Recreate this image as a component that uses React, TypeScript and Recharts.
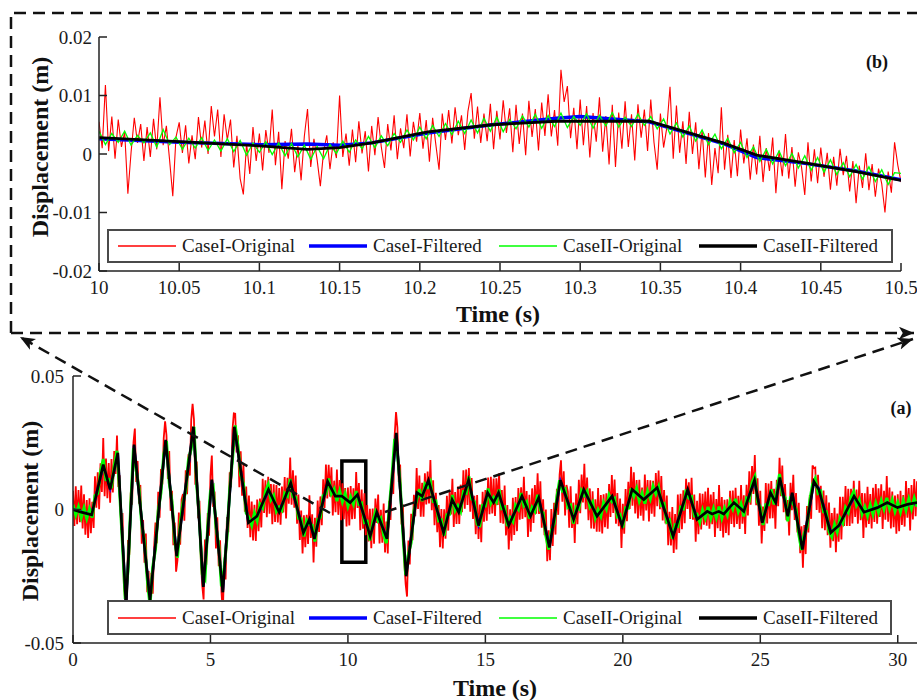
import React from 'react';
import { LineChart, Line, XAxis, YAxis, Legend, ReferenceArea } from 'recharts';

const FONT = '"Liberation Serif", "Times New Roman", serif';

// ---------- panel (b): zoom 10.0 - 10.5 s, values read in mm ----------
const B_START = 10;
const B_RED_STEP = 0.002;
const bRedMm = [
  5.5, 1.0, 11.8, 0.5, 6.4, -0.8, 5.9, 1.2, 3.8, -6.8,
  0.3, 6.2, 1.9, 5.1, -1.2, 4.6, -0.5, 6.0, 0.8, 9.7,
  1.5, 4.8, -1.0, -7.2, 2.9, 5.4, 0.2, 4.9, -1.6, 3.2,
  -0.9, 6.3, 1.1, 5.7, 0.0, 8.2, 3.0, 7.6, -0.5, 6.8,
  2.4, 5.9, -2.3, 3.1, -4.2, -6.9, 1.8, -3.4, 4.6, -1.2,
  3.5, -2.8, 4.1, 0.2, 7.6, -1.9, 3.8, -6.0, 2.2, -0.8,
  4.3, -3.1, 1.4, -4.5, 3.0, 7.7, -2.2, 2.6, -1.0, -5.5,
  0.4, 3.2, -2.6, 2.0, -0.7, 10.0, -0.5, 3.5, -2.0, 4.2,
  -1.4, 5.6, 0.1, 3.9, -3.0, 4.8, -0.2, 6.3, 1.2, -2.4,
  5.1, 0.6, 6.6, -0.9, 4.4, 1.0, 6.8, -0.4, 5.5, 2.1,
  7.0, 0.9, 5.8, -1.3, 6.2, 1.6, -2.7, 6.9, 2.4, 7.5,
  1.8, 8.0, 3.2, 6.6, 0.7, 7.3, 10.4, 2.6, 8.1, 1.9,
  6.9, 2.2, 8.6, 0.8, 7.4, 2.5, 9.2, 3.6, 7.8, 0.3,
  8.4, 1.7, 6.9, -0.2, 9.1, 2.9, 7.7, 0.6, 8.8, 3.1,
  10.2, 3.0, 7.5, 1.4, 14.4, 8.9, 11.6, 2.7, 7.9, 0.8,
  9.3, 1.5, 8.2, -0.6, 7.0, 2.1, 9.7, 0.4, 6.5, -1.8,
  8.4, -2.2, 7.1, 0.9, 9.0, 1.2, 6.8, -1.1, 8.5, 2.8,
  7.6, 0.5, 9.3, 2.0, -2.7, 6.9, 1.1, 4.5, 11.5, -0.8,
  8.3, 0.2, 5.6, -1.7, 7.2, 0.0, 5.4, -2.6, 4.1, -4.0,
  3.6, -5.3, 1.0, -3.3, 8.0, -2.7, 3.3, -4.1, 2.4, -3.8,
  4.2, -1.6, 2.7, -4.4, 1.6, -3.5, 3.1, -4.8, 1.0, -2.9,
  2.8, -6.7, 0.6, -3.8, 3.4, -4.2, 1.2, -5.6, 0.3, -2.3,
  -7.0, 2.0, -4.7, 0.8, -5.0, 1.1, -3.9, 0.2, -6.1, -0.5,
  -5.4, 0.9, -3.6, -0.3, -6.4, -1.2, -8.4, -2.0, -5.8, 0.1,
  -6.2, -1.7, -7.3, -2.5, -5.1, -10.0, -3.0, -6.6, 2.0, -1.9,
  -4.8,
];
const B_GREEN_STEP = 0.004;
const bGreenMm = [
  3.9, 1.6, 3.5, 2.0, 3.9, 1.5, 3.2, 1.9, 3.6, 1.2,
  4.2, 1.6, 2.9, 0.8, 2.7, 1.0, 2.8, 0.6, 2.4, 0.5,
  2.6, 0.4, 2.3, -0.2, 1.9, 0.3, 2.1, -0.1, 1.9, -0.3,
  1.8, -0.5, 1.5, -0.9, 1.3, -0.8, 1.6, 0.1, 2.2, 0.3,
  2.4, 0.9, 3.0, 1.1, 3.1, 1.4, 3.5, 2.0, 4.1, 2.4,
  4.6, 2.6, 4.9, 3.0, 5.2, 3.3, 5.6, 3.5, 5.8, 3.6,
  6.1, 3.9, 6.3, 3.8, 5.9, 4.3, 6.5, 4.6, 6.8, 4.4,
  6.6, 4.7, 7.0, 4.5, 6.4, 4.9, 6.9, 4.4, 6.6, 4.8,
  7.1, 4.6, 6.3, 4.7, 6.8, 4.9, 6.4, 4.3, 6.0, 3.4,
  5.3, 2.9, 4.8, 2.2, 4.1, 1.6, 3.4, 0.9, 2.7, 0.2,
  2.0, -0.6, 1.2, -1.3, 0.8, -1.7, 0.5, -2.0, 0.1, -2.4,
  -0.3, -2.8, -0.6, -3.1, -1.0, -3.5, -1.5, -3.9, -1.8, -4.3,
  -2.2, -4.7, -2.7, -5.2, -3.2, -3.3,
];
const bBlueT = [10, 10.05, 10.1, 10.13, 10.15, 10.17, 10.205, 10.245, 10.285, 10.3, 10.32, 10.343, 10.389, 10.41, 10.44, 10.472, 10.5];
const bBlueMm = [2.6, 2.0, 1.6, 1.7, 1.5, 1.9, 3.6, 5.0, 6.1, 6.4, 6.0, 5.5, 1.8, -0.6, -1.6, -2.9, -4.4];
const bBlackT = [10, 10.05, 10.1, 10.13, 10.15, 10.17, 10.205, 10.245, 10.285, 10.343, 10.389, 10.41, 10.44, 10.472, 10.5];
const bBlackMm = [2.8, 2.1, 1.4, 0.8, 1.1, 1.9, 3.8, 5.0, 5.6, 5.6, 1.9, -0.2, -1.5, -3.0, -4.5];

// ---------- panel (a): whole record, values read in mm ----------
const A_RED_STEP = 0.05;
const aRedMm = [
  7, -6.2, 8.7, -5.5, 7.3, -4.8, 9, -7.1, 5.7, -9.4, 3.5, -10.7, 4.2, -8.9, 2.9, -6.9, 12.4, 0.7, 13.9, 0.1,
  17.3, 6.6, 26.8, 5, 19.1, 4.2, 17.4, 2.5, 18.9, 6.4, 21.9, 13.3, 27.7, 8.4, 12.8, -7.7, -1.3, -27.8, -34.3, -40.8,
  -11.4, -17, 6.4, 1.8, 25.1, 30.3, 10.3, 18.2, 2.2, 9.2, -12.8, -3.9, -19.9, -9, -31, -23, -43, -23.7, -31.5, -14.2,
  -4.9, -12.7, 6.6, -3.1, 15.2, 9.4, 26.7, 33, 27.8, 11.4, 21.9, -0.5, 7, -13.4, -4.9, -23.3, -19.1, -1.1, -13.2, 3.8,
  5.8, -4.2, 14.7, 5.7, 20.7, 12.7, 33.6, 39.6, 33.7, 9.3, 18, -3.3, 3.3, -19, -28.3, -33.7, -11.2, -20.7, -1.3, -9.8,
  12.7, 20.2, 0.9, 6.7, -14.6, -2.9, -21.2, -11.5, -30.7, -39, -19.6, -26.2, -2.8, -8.5, 13.9, 8.3, 29.7, 36, 35.9, 21.4,
  27.8, 8.3, 21.8, 5.2, 16.7, -0.8, 8.6, -6.9, 5.2, -10.4, 3, -11.6, 1.8, -11.8, 3.7, -8.1, 4.1, -6.7, 11.5, -1.3,
  10.9, -2.9, 12.3, -1.6, 9.5, -5.5, 9.4, -4.7, 9.2, -4.9, 8, -5.7, 8.6, -1.1, 12.2, -3.4, 11.9, 2.2, 19.5, 1.8,
  14.7, 0.7, 12.7, -5.3, 5.6, -11.4, -0.4, -16.5, -2.2, -14.1, -2, -12.9, 5.3, -10.7, -1.8, -19.8, -3.1, -13.9, 3.4, -8.4,
  4.9, -5.9, 11.3, 0.6, 16.8, 4.1, 16.7, 4.8, 15.8, -2.2, 10.8, -1, 15, -2, 11, -4, 9.8, -3.6, 8, -6.4,
  8.2, -6, 8.8, -3.6, 7.9, -3.5, 14, 0.6, 9.9, -7.8, 7.5, -7.2, 6.1, -9.6, 1.7, -12, 0.3, -14.5, 0.4, -12.8,
  4.1, -5, 5.6, -12.7, -0.1, -12.4, 2.2, -16.1, -4.5, -16.5, 3.3, -3.9, 14, 5.8, 27.7, 36.5, 30.7, 10.3, 16.8, -5.6,
  1.9, -19.6, -28, -32.6, -11.6, -20.6, -1.6, -11.5, 5.5, -2.5, 15.5, 0.2, 12.7, -2.7, 10, -2.7, 13.6, 1.9, 14.2, 2.3,
  18.5, -0.3, 10.9, -5.9, 6.3, -8.5, 1.7, -14.1, 0.2, -14.6, 0.1, -10.9, 5.1, -7.9, 7.1, -1.9, 11.5, -6.5, 6.5, -5.4,
  8.6, -5.4, 9.3, -1, 14.7, 0.3, 15, 1.7, 15.5, -0.8, 11.8, -3.5, 5.1, -9.3, 5.4, -11, 1.9, -12.3, 6.6, -4.6,
  7.3, -4.2, 12, -1.8, 12.3, -1.5, 11.6, -2.4, 11.7, 1.7, 13.6, -5, 7.3, -5.3, 9, -9.7, 1.7, -15, 0.1, -11.7,
  4.4, -9.5, 4.7, -8.1, 8, -3.8, 8.3, -3.5, 12.3, -2.9, 6.9, -10.3, 5.5, -8.3, 7.9, -5, 9.2, -1.6, 13.6, -1.7,
  10.6, -6.8, 3.8, -9.6, 0, -19.4, -7.8, -19, 0.2, -13.7, 2.5, -9.4, 7.8, -2, 13.1, 18.4, 2.9, 14.3, -2.2, 9.2,
  6.7, -6.8, 8.7, -6.9, 2.6, -12.5, 6, -5.5, 11.1, -1.4, 13.1, 2.6, 17.1, 0.1, 12, -4, 7.9, -7.1, 6.8, -7.2,
  3.8, -8.3, 8, -8.3, 5.4, -9, 5.7, -6.6, 6.1, -7.2, 9.5, -2.8, 12.9, -1.3, 11.2, -5.3, 6.2, -6.3, 4.1, -14.4,
  2.1, -9.1, 7.7, -4.4, 10.4, 0.2, 16, 1.4, 13.9, -1.5, 11, -3.4, 11.1, -2.3, 8.2, -4.2, 13.1, -0.4, 11, -4.5,
  10.9, -1.6, 10.8, -2.7, 13.7, 1.2, 14.6, 0.1, 12.5, -4.1, 7.3, -5.2, 5.2, -13.4, -0.9, -13.5, 0.9, -16.3, -1.7, -15,
  5.6, -8.8, 5.9, -7.4, 7.2, -5.1, 11.5, 0.2, 10.2, -3.5, 11.9, -3.8, 5.6, -12.1, 3.3, -9.3, 6.1, -7.5, 5.9, -5.7,
  6.7, -6.1, 8.1, -7.2, 5.6, -5.5, 6.5, -10.3, 3.9, -7, 9.2, -8, 4.7, -10.5, 3.6, -8.8, 3.8, -9.6, 7, -5.4,
  7.1, -6.6, 8.1, -5.4, 5.1, -7.3, 9.2, -5.3, 5.3, -9.2, 9.3, -2.2, 14.3, 1.8, 16.3, 5.8, 20.4, 1.6, 11.7, -6.1,
  7, -12.7, 1.1, -8, 9.9, -5.2, 9.7, -3.4, 10.7, -3.3, 7.8, -7.2, 11.1, 1.2, 19.4, 5, 16.5, -1, 9.5, -4,
  3.5, -9.7, 10, -0.3, 13, -3.9, 6.2, -8.6, 2.5, -16.4, -6.3, -21.8, -5.8, -16.7, 1.3, -8.6, 5.4, -3.5, 16.5, 15.5,
  15.7, -0.2, 13, -1.2, 8.9, -7, 7.1, -7.8, 5.3, -9.6, 2.6, -14.3, -1.3, -11.9, 0.6, -16, -1.5, -12.1, 4.8, -11.2,
  4.8, -6.2, 8.8, -6.2, 7.8, -6.2, 7.8, -5.2, 10.8, -2.8, 7.5, -5.3, 10.8, -4, 6.2, -10.7, 6.1, -6.7, 8.5, -5.4,
  5.8, -7.1, 8.1, -4.7, 9.5, -5.3, 7.9, -2.8, 9.4, -7.3, 7, -3.8, 12.5, -4.6, 8.2, -7.1, 6.7, -6.6, 5.2, -9.1,
  5.7, -8.1, 7, -5.8, 5.4, -6.4, 10.7, -3.1, 8, -7.9, 9.2, -3.7, 11.4, -2.5, 10.6,
];
const A_GREEN_STEP = 0.1;
const aGreenMm = [
  1.8, -2.1, 1.0, -3.0, 0.6, -3.4, 0.2, -3.0, 5.2, 6.0,
  14.1, 18.9, 11.2, 11.3, 8.0, 16.6, 22.0, 6.0, -13.0, -33.5,
  -23.0, 1.3, 23.0, 14.5, 8.0, -5.7, -12.0, -26.0, -36.0, -21.6,
  -14.8, -0.5, 6.3, 20.6, 25.6, 10.0, 2.9, -11.8, -18.0, -5.3,
  2.7, 6.8, 18.6, 22.7, 31.0, 9.1, -3.8, -24.2, -26.0, -6.4,
  6.8, 8.4, -6.5, -13.3, -28.8, -21.7, -10.7, 7.8, 18.8, 31.5,
  23.7, 12.9, 9.6, -1.3, -3.0, -5.9, -1.3, -4.2, 2.0, 0.6,
  6.8, 9.3, 3.6, 5.3, -0.7, 0.9, -0.3, 6.1, 5.0, 11.4,
  4.8, 4.6, -3.3, -3.5, -10.1, -4.1, -5.6, -5.9, -12.0, -3.7,
  -3.0, 5.2, 5.9, 11.6, 5.9, 7.7, 3.1, 6.9, 2.9, 5.9,
  1.3, 4.7, 2.0, 6.9, 2.0, 2.4, -4.8, -4.4, -11.6, -4.7,
  -1.0, -4.3, -3.2, -9.7, -12.6, 0.2, 11.9, 26.5, 20.8, 9.7,
  -9.0, -24.5, -16.7, -12.5, -0.6, 3.6, 7.6, 3.1, 9.5, 8.3,
  10.4, 3.0, 3.2, -4.2, -3.9, -9.8, -2.0, -1.8, 5.4, -0.4,
  1.5, -0.6, 6.6, 6.1, 12.4, 3.9, 3.0, -5.5, -6.0, 1.5,
  1.4, 7.9, 2.4, 4.5, 2.8, 7.5, 0.4, 0.9, -6.2, -3.0,
  -4.5, 1.6, 0.1, 6.2, 1.4, 2.8, -3.4, 0.8, -0.7, 5.5,
  -0.3, -1.3, -9.9, -15.0, -7.9, -5.4, 4.7, 11.0, 7.0, 7.7,
  0.8, 1.6, -5.3, 0.9, 0.2, 7.0, 5.2, 6.9, 1.0, 2.7,
  -3.1, -0.1, -2.5, 2.6, 0.2, 5.4, 3.0, 4.1, -2.7, -2.0,
  -6.8, 0.6, 0.5, 7.9, 5.0, 7.9, 3.2, 6.1, 2.2, 6.9,
  4.0, 8.7, 5.8, 8.5, 1.6, 2.2, -4.7, -4.0, -11.0, -5.8,
  -6.3, 0.8, 0.3, 7.4, 4.3, 4.8, -2.3, -1.8, -4.8, -0.2,
  -3.2, 1.0, -3.3, 0.4, -3.0, 1.1, -3.2, 0.5, -2.1, 2.9,
  0.2, 4.0, -0.8, 2.1, -2.6, 4.2, 3.4, 10.2, 12.3, 2.8,
  0.9, -5.8, 1.8, 1.8, 7.6, 1.9, 7.0, 13.3, 5.6, 4.4,
  -4.4, 4.9, 2.1, 0.1, -9.4, -15.2, -8.9, -6.6, 3.3, 9.4,
  11.6, 6.1, 6.8, -0.8, -0.8, -8.3, -10.2, -5.5, -8.4, -3.3,
  -5.1, 0.7, -1.1, 4.7, 6.7, 1.6, 3.7, -1.7, 1.0, -2.4,
  1.7, -1.8, 2.4, -1.0, 3.3, 0.1, 4.4, 0.3, 3.6, -0.7,
  2.6, -0.9, 3.3, -0.2, 3.9, 0.3, 4.3, 1.0,
];
const aKnotT = [
  0, 0.3, 0.68, 1.1, 1.35, 1.63, 1.93, 2.22, 2.8, 3.37,
  3.77, 4.38, 4.74, 5.05, 5.45, 5.87, 6.38, 6.69, 7.11, 7.5,
  7.92, 8.38, 8.6, 8.78, 9.26, 9.54, 9.78, 10.08, 10.35, 10.81,
  11.05, 11.42, 11.76, 12.12, 12.51, 12.7, 12.93, 13.48, 13.79, 14.03,
  14.39, 14.75, 15.08, 15.3, 15.48, 15.85, 16.33, 16.64, 16.94, 17.33,
  17.73, 18.21, 18.58, 19.06, 19.61, 19.97, 20.34, 20.76, 21.25, 21.83,
  22.36, 22.7, 23.07, 23.25, 23.49, 23.67, 24.04, 24.4, 24.79, 25.07,
  25.37, 25.56, 25.71, 26, 26.16, 26.53, 26.95, 27.13, 27.56, 27.86,
  28.41, 28.77, 29.26, 29.62, 29.99, 30.35, 30.71,
];
const aBlueMm = [
  0.4, -0.6, -1.5, 16.3, 7.9, 20.6, -35.2, 23.8, -33.4, 25.6,
  -17, 30.3, -28.4, 10.8, -30.3, 30.4, -4.6, -2.9, 7.1, -0.6,
  9.6, -8.3, -4.1, -10.6, 10.1, 5.4, 4.6, 3, 5.2, -9.6,
  -1.4, -10.6, 28.1, -24.4, 5.9, 5.4, 10.6, -8.3, 3.3, -0.6,
  10.6, -5.6, 5.9, 3, 5.9, -5.6, 4.6, -2.1, 4.1, -13.7,
  10.6, -3.3, 7.1, -2.1, 4.6, -5.6, 7.1, 4.1, 7.8, -9.6,
  7.1, -3.3, -1.1, -1.3, -1.1, -1.3, 2.2, -0.3, 10.6, -4.6,
  5.9, 3, 11.6, -2.1, 5.9, -14.6, 10.1, 7.9, -8.3, -6.4,
  4.6, -0.6, 1.1, 2.2, 1.1, 1.5, 2.2,
];
const aBlackMm = [
  0, -1, -2, 16.8, 7.5, 21.2, -36, 24.3, -34, 26.1,
  -17.5, 31, -29, 11.2, -31, 31, -5, -2.5, 7.5, -1,
  10, -8.7, -3.7, -11, 10.5, 5, 5, 2.6, 5.6, -10,
  -1, -11, 28.7, -25, 6.3, 5, 11, -8.7, 3.7, -1,
  11, -6, 6.3, 2.6, 6.3, -6, 5, -2.5, 4.5, -14.2,
  11, -3.7, 7.5, -2.5, 5, -6, 7.5, 3.7, 8.2, -10,
  7.5, -3.7, -0.7, -1.7, -0.7, -1.7, 2.6, -0.7, 11, -5,
  6.3, 2.6, 12, -2.5, 6.3, -15, 10.5, 7.5, -8.7, -6,
  5, -1, 0.7, 2.6, 0.7, 1.9, 2.6,
];

// zoom window drawn on panel (a)
const boxT = [9.78, 10.65];
const boxV = [-0.0198, 0.0182];

const bTicksX = [10, 10.05, 10.1, 10.15, 10.2, 10.25, 10.3, 10.35, 10.4, 10.45, 10.5];
const bTicksY = [-0.02, -0.01, 0, 0.01, 0.02];
const aTicksX = [0, 5, 10, 15, 20, 25, 30];
const aTicksY = [-0.05, 0, 0.05];

const SERIES = [
  { name: 'CaseI-Original', color: '#ff0000', swatch: 1.5 },
  { name: 'CaseI-Filtered', color: '#0000ff', swatch: 3.5 },
  { name: 'CaseII-Original', color: '#00ff00', swatch: 1.5 },
  { name: 'CaseII-Filtered', color: '#000000', swatch: 3.5 },
];
const ITEM_W = [191, 190, 200, 186];

const sampled = (start: number, step: number, mm: number[]) =>
  mm.map((v, i) => ({ t: +(start + i * step).toFixed(4), v: v / 1000 }));
const paired = (ts: number[], mm: number[]) => ts.map((t, i) => ({ t, v: mm[i] / 1000 }));

const bRed = sampled(B_START, B_RED_STEP, bRedMm);
const bGreen = sampled(B_START, B_GREEN_STEP, bGreenMm);
const bBlue = paired(bBlueT, bBlueMm);
const bBlack = paired(bBlackT, bBlackMm);
const aRed = sampled(0, A_RED_STEP, aRedMm);
const aGreen = sampled(0, A_GREEN_STEP, aGreenMm);
const aBlue = paired(aKnotT, aBlueMm);
const aBlack = paired(aKnotT, aBlackMm);

const tickStyle = { fill: '#1a1a1a', fontSize: 19, fontFamily: FONT };
const axisStroke = { stroke: '#222', strokeWidth: 1.5 };

const AxisTitle = ({ px, py, txt, vertical }: any) => (
  <text
    x={px}
    y={py}
    transform={vertical ? `rotate(-90 ${px} ${py})` : undefined}
    textAnchor="middle"
    dominantBaseline="central"
    fontFamily={FONT}
    fontWeight="bold"
    fontSize={24}
    fill="#111"
  >
    {txt}
  </text>
);

const LegendBox = () => (
  <div
    style={{
      boxSizing: 'border-box',
      width: '100%',
      height: '100%',
      border: '2px solid #4a4a4a',
      background: '#fff',
      display: 'flex',
      alignItems: 'center',
      paddingLeft: 9,
      fontFamily: FONT,
      fontSize: 19,
      color: '#1a1a1a',
    }}
  >
    {SERIES.map((s, i) => (
      <div key={s.name} style={{ display: 'flex', alignItems: 'center', width: ITEM_W[i] }}>
        <svg width={58} height={8}>
          <line x1={0} y1={4} x2={58} y2={4} stroke={s.color} strokeWidth={s.swatch} />
        </svg>
        <span style={{ marginLeft: 6, whiteSpace: 'nowrap' }}>{s.name}</span>
      </div>
    ))}
  </div>
);

const drawSeries = (data: any[], widths: number[]) =>
  data.map((d, i) => (
    <Line
      key={SERIES[i].name}
      data={d}
      dataKey="v"
      name={SERIES[i].name}
      type="linear"
      stroke={SERIES[i].color}
      strokeWidth={widths[i]}
      dot={false}
      activeDot={false}
      isAnimationActive={false}
    />
  ));

export default function App() {
  return (
    <div style={{ position: 'absolute', left: 0, top: 0, width: 917, height: 700, background: '#fff' }}>
      <div style={{ position: 'absolute', left: 0, top: 0 }}>
        <LineChart width={917} height={330} margin={{ top: 37, right: 16, bottom: 0, left: 0 }}>
          <XAxis
            type="number"
            dataKey="t"
            domain={[10, 10.5]}
            ticks={bTicksX}
            interval={0}
            allowDataOverflow
            height={59}
            tickSize={-8}
            tickMargin={18}
            tick={tickStyle}
            axisLine={axisStroke}
            tickLine={axisStroke}
            label={<AxisTitle px={498} py={314} txt="Time (s)" />}
          />
          <YAxis
            type="number"
            domain={[-0.02, 0.02]}
            ticks={bTicksY}
            interval={0}
            allowDataOverflow
            width={99}
            tickSize={-8}
            tickMargin={15}
            tick={tickStyle}
            axisLine={axisStroke}
            tickLine={axisStroke}
            label={<AxisTitle px={40} py={147} txt="Displacement (m)" vertical />}
          />
          {drawSeries([bRed, bBlue, bGreen, bBlack], [1.1, 3.5, 1.3, 2.8])}
          <Legend
            content={<LegendBox />}
            layout="horizontal"
            align="center"
            verticalAlign="middle"
            wrapperStyle={{ left: 107, top: 229, width: 786, height: 34 }}
          />
        </LineChart>
      </div>

      <div style={{ position: 'absolute', left: 0, top: 340 }}>
        <LineChart width={917} height={360} margin={{ top: 36, right: 0, bottom: 0, left: 0 }}>
          <XAxis
            type="number"
            dataKey="t"
            domain={[0, 30.7]}
            ticks={aTicksX}
            interval={0}
            allowDataOverflow
            height={57}
            tickSize={-8}
            tickMargin={18}
            tick={tickStyle}
            axisLine={axisStroke}
            tickLine={axisStroke}
            label={<AxisTitle px={495} py={348} txt="Time (s)" />}
          />
          <YAxis
            type="number"
            domain={[-0.05, 0.05]}
            ticks={aTicksY}
            interval={0}
            allowDataOverflow
            width={73}
            tickSize={-8}
            tickMargin={17}
            tick={tickStyle}
            axisLine={axisStroke}
            tickLine={axisStroke}
            label={<AxisTitle px={30} py={171} txt="Displacement (m)" vertical />}
          />
          {drawSeries([aRed, aBlue, aGreen, aBlack], [1.8, 2.5, 3, 2.7])}
          <ReferenceArea
            x1={boxT[0]}
            x2={boxT[1]}
            y1={boxV[0]}
            y2={boxV[1]}
            fill="none"
            fillOpacity={0}
            stroke="#000"
            strokeWidth={3.5}
            ifOverflow="visible"
          />
          <Legend
            content={<LegendBox />}
            layout="horizontal"
            align="center"
            verticalAlign="middle"
            wrapperStyle={{ left: 107, top: 260, width: 785, height: 35 }}
          />
        </LineChart>
      </div>

      <svg
        width={917}
        height={700}
        style={{ position: 'absolute', left: 0, top: 0, pointerEvents: 'none' }}
      >
        <defs>
          <marker
            id="arrowHead"
            viewBox="0 0 12 10"
            refX={12}
            refY={5}
            markerWidth={15}
            markerHeight={13}
            markerUnits="userSpaceOnUse"
            orient="auto"
          >
            <path d="M0,0 L12,5 L0,10 L3,5 Z" fill="#111" stroke="none" />
          </marker>
        </defs>
        <g stroke="#111" strokeWidth={2.5} strokeDasharray="12 7" fill="none">
          <polyline points="11,333 11,13 917,13" />
          <line x1={11} y1={333} x2={914} y2={333} markerEnd="url(#arrowHead)" />
          <line x1={330} y1={513} x2={20} y2={337} markerEnd="url(#arrowHead)" />
          <line x1={385} y1={512} x2={913} y2={339} markerEnd="url(#arrowHead)" />
        </g>
        <text x={877} y={62} textAnchor="middle" dominantBaseline="central" fontFamily={FONT} fontWeight="bold" fontSize={18} fill="#111">
          (b)
        </text>
        <text x={901} y={408} textAnchor="middle" dominantBaseline="central" fontFamily={FONT} fontWeight="bold" fontSize={18} fill="#111">
          (a)
        </text>
      </svg>
    </div>
  );
}
